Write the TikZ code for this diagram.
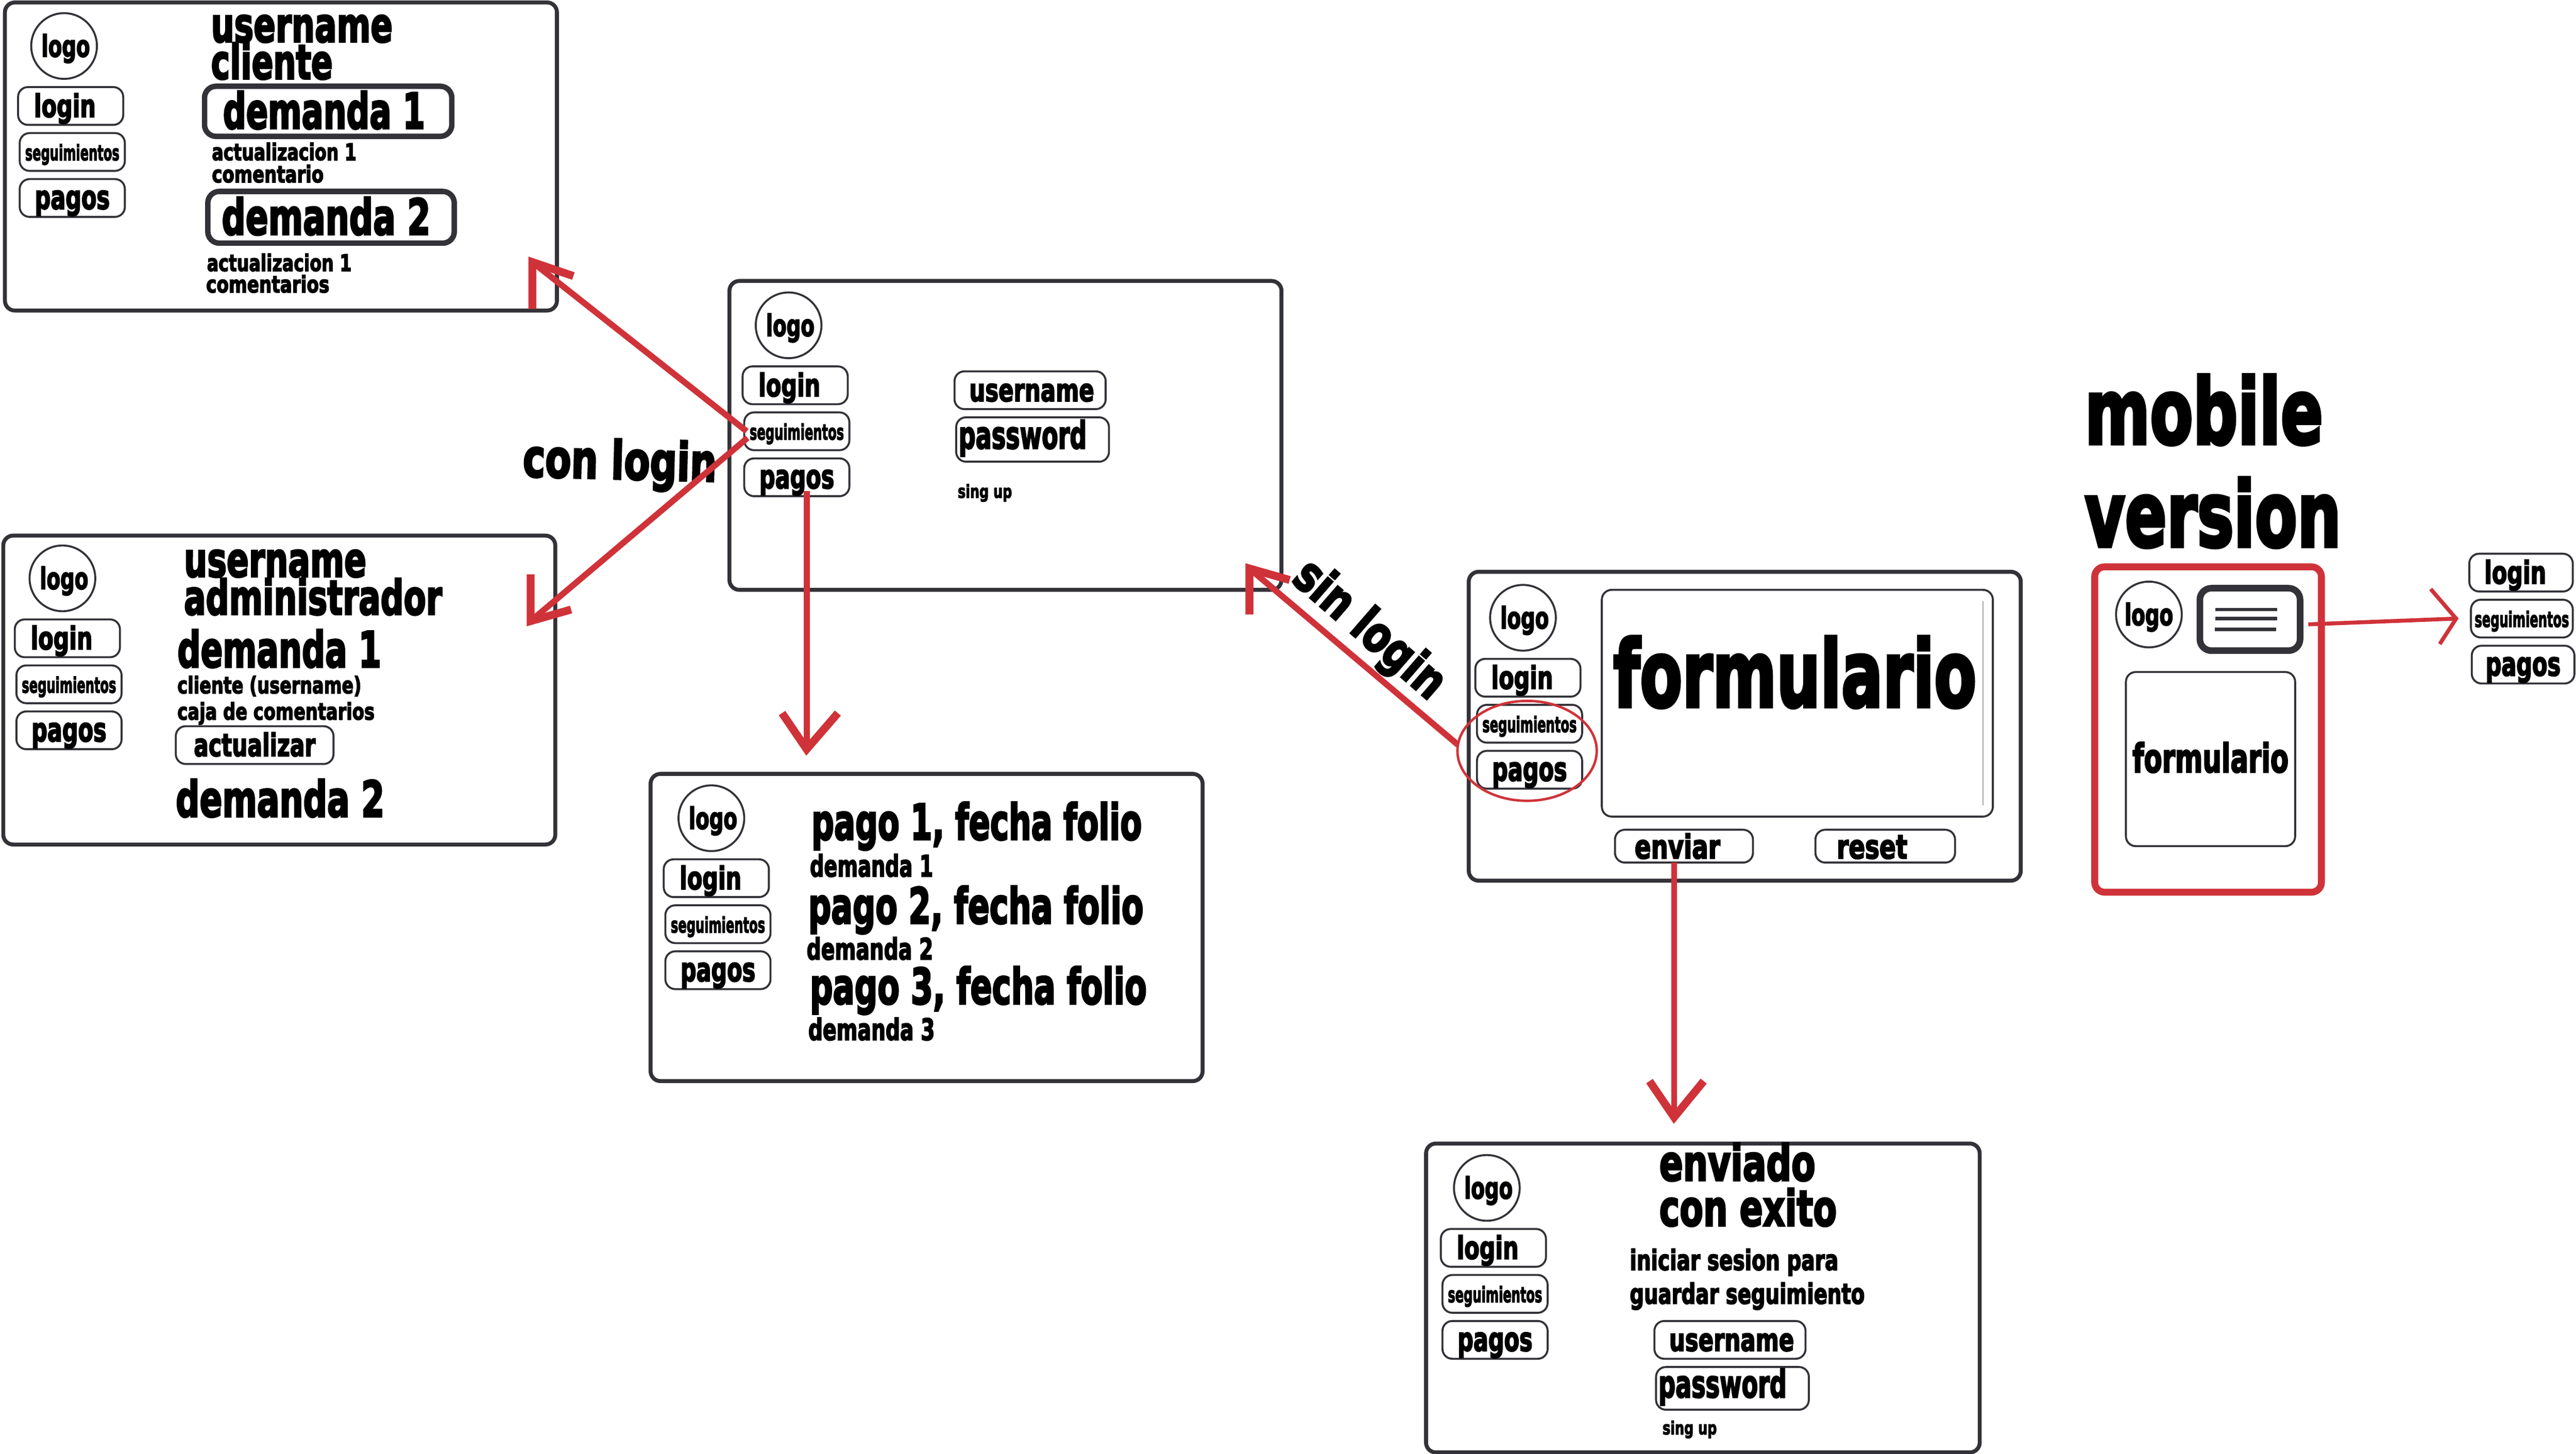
\documentclass[tikz,border=0pt]{standalone}
\usepackage{fontspec}
\usepackage{graphicx}
\usetikzlibrary{shapes.geometric}
\newfontfamily\imp[FakeBold=4,UprightFont=* Bold]{DejaVu Sans}
\newlength\ux \setlength\ux{3.7775pt}
\definecolor{ink}{HTML}{333238}
\definecolor{redc}{HTML}{CF3339}
\newcommand\tx[3]{{\imp\fontsize{#1\ux}{#1\ux}\selectfont\resizebox{#2\ux}{\height}{#3}}}
% name, x, baseline y, size, width, text
\newcommand\lbl[6]{\node[anchor=base west,inner sep=0pt,outer sep=0pt] (#1) at (#2,#3) {\tx{#4}{#5}{#6}};}
% name, style, x1,y1,x2,y2, content
\newcommand\bx[7]{%
  \pgfmathsetlengthmacro\bw{((#5)-(#3))*\ux}%
  \pgfmathsetlengthmacro\bh{((#6)-(#4))*\ux}%
  \node[#2,minimum width=\bw,minimum height=\bh] (#1) at ({((#3)+(#5))/2},{((#4)+(#6))/2}) {#7};}
% prefix, logo x, logo y, button x, button y
\newcommand\screen[5]{%
  \node[logoc] (#1logo) at (#2,#3) {\hspace*{2\ux}\tx{18}{29.5}{logo}};
  \bx{#1login}{btn,wordbtn}{#4}{#5}{#4+64}{#5+23}{\tx{19}{37.6}{login}\hspace*{7\ux}}
  \bx{#1seg}{btn,smallbtn}{#4+1}{#5+28}{#4+65}{#5+51}{\tx{13}{57.4}{seguimientos}}
  \bx{#1pagos}{btn,wordbtn}{#4+1}{#5+56}{#4+65}{#5+79}{\tx{20}{45.6}{pagos}}
}
\tikzset{
  panel/.style={draw=ink,fill=white,line width=2.4\ux,rounded corners=6\ux,inner sep=0pt,outer sep=0pt},
  btn/.style={draw=ink,fill=white,line width=1.2\ux,rounded corners=6\ux,inner sep=0pt,outer sep=0pt},
  wordbtn/.style={text height=15\ux,text depth=1.6\ux},
  smallbtn/.style={text height=11.5\ux,text depth=1.3\ux},
  passbtn/.style={text height=16\ux,text depth=5\ux},
  heavybtn/.style={draw=ink,fill=white,line width=3.3\ux,rounded corners=7\ux,inner sep=0pt,outer sep=0pt},
  headbtn/.style={text height=23\ux,text depth=2\ux},
  logoc/.style={draw=ink,fill=white,line width=1.2\ux,circle,minimum size=40\ux,inner sep=0pt,outer sep=0pt,text height=14\ux,text depth=1\ux},
  redline/.style={draw=redc,line width=3.7\ux},
  redhead/.style={draw=redc,line width=4.8\ux,line join=miter,miter limit=20},
  thinred/.style={draw=redc,line width=2.4\ux,line join=miter,miter limit=20},
}
\begin{document}
\begin{tikzpicture}[x=3.7775pt,y=-3.7775pt]
\useasboundingbox (0,0) rectangle (1567.97,884.71);
% panel A
\bx{pa}{panel}{3}{1.5}{339}{189}{}
\screen{a-}{39}{28}{11}{53}
\lbl{a1}{128.5}{25.5}{29}{110.5}{username}
\lbl{a2}{128.5}{48}{29}{74}{cliente}
\bx{a3}{heavybtn,headbtn}{124.5}{52.5}{275}{83}{\tx{30}{123}{demanda 1}\hspace*{5\ux}}
\lbl{a4}{129}{97.5}{14}{88}{actualizacion 1}
\lbl{a5}{129}{111}{14}{68}{comentario}
\bx{a6}{heavybtn,headbtn}{126.5}{116.5}{276.5}{148}{\tx{30}{127}{demanda 2}\hspace*{6\ux}}
\lbl{a7}{126}{165}{14}{88}{actualizacion 1}
\lbl{a8}{125.5}{178}{14}{75}{comentarios}
% panel B
\bx{pb}{panel}{444}{171}{780}{359}{}
\screen{b-}{480}{198}{452}{223}
\bx{b1}{btn,wordbtn}{581}{226}{673}{249}{\hspace*{2\ux}\tx{19}{76}{username}}
\bx{b2}{btn,passbtn}{582}{254}{675}{281}{\tx{23}{78}{password}\hspace*{12\ux}}
\lbl{b3}{583}{303}{11}{33}{sing up}
% panel C
\bx{pc}{panel}{2}{326}{338}{514}{}
\screen{c-}{38}{352}{9}{377}
\lbl{c1}{112}{351}{29}{111}{username}
\lbl{c2}{112}{374}{29}{157}{administrador}
\lbl{c3}{108}{406}{30}{124}{demanda 1}
\lbl{c4}{108}{422}{14}{112}{cliente (username)}
\lbl{c5}{108}{438}{14}{120}{caja de comentarios}
\bx{c6}{btn,wordbtn}{107}{442}{203}{465}{\tx{19}{74}{actualizar}}
\lbl{c7}{107}{497}{30}{127}{demanda 2}
% panel D
\bx{pd}{panel}{396}{471}{732}{658}{}
\screen{d-}{433}{498}{404}{523}
\lbl{d1}{494}{511}{30}{201}{pago 1, fecha folio}
\lbl{d2}{493}{533.5}{18}{75}{demanda 1}
\lbl{d3}{492}{562}{30}{204}{pago 2, fecha folio}
\lbl{d4}{491}{584}{18}{77}{demanda 2}
\lbl{d5}{493}{611}{30}{205}{pago 3, fecha folio}
\lbl{d6}{492}{633}{18}{77}{demanda 3}
% panel E
\bx{pe}{panel}{894}{348}{1230}{536}{}
\screen{e-}{927}{376}{898}{401}
\bx{e1}{btn}{975}{359}{1213}{497}{}
\draw[draw=gray!70,line width=.4\ux] (1207,366) -- (1207,490);
\lbl{e2}{982}{430}{56}{221}{formulario}
\bx{e3}{btn,text height=15\ux,text depth=0\ux}{983}{505}{1067}{525}{\tx{20}{52}{enviar}\hspace*{8\ux}}
\bx{e4}{btn,text height=15\ux,text depth=0\ux}{1105}{505}{1190}{525}{\tx{20}{43}{reset}\hspace*{16\ux}}
% panel F
\bx{pf}{panel}{868}{696}{1205}{884}{}
\screen{f-}{905}{723}{877}{748}
\lbl{f1}{1010}{718.5}{30}{95}{enviado}
\lbl{f2}{1010}{746}{30}{108}{con exito}
\lbl{f3}{992}{773}{17}{127}{iniciar sesion para}
\lbl{f4}{992}{793.5}{17}{143}{guardar seguimiento}
\bx{f5}{btn,wordbtn}{1007}{804}{1099}{827}{\hspace*{2\ux}\tx{19}{76}{username}}
\bx{f6}{btn,passbtn}{1008}{832}{1101}{858}{\tx{23}{78}{password}\hspace*{12\ux}}
\lbl{f7}{1012}{873}{11}{33}{sing up}
% mobile
\lbl{m1}{1269}{270}{55}{145}{mobile}
\lbl{m2}{1269}{332.5}{55}{156}{version}
\bx{mo}{panel,draw=redc,line width=4.2\ux}{1275}{345}{1413}{543}{}
\node[logoc] (mlogo) at (1308,374) {\tx{18}{29.5}{logo}};
\bx{ham}{heavybtn,line width=4\ux}{1339}{358}{1400}{396}{}
\draw[ink,line width=2\ux] (1348.5,371) -- (1386,371);
\draw[ink,line width=2\ux] (1348.5,376.5) -- (1386,376.5);
\draw[ink,line width=2\ux] (1348,383) -- (1385.5,383);
\bx{mf}{btn,text height=18\ux,text depth=2\ux}{1294}{409}{1397}{515}{\tx{24}{95}{formulario}}
\bx{s1}{btn,wordbtn}{1503}{337}{1566}{360}{\tx{19}{37.6}{login}\hspace*{7\ux}}
\bx{s2}{btn,smallbtn}{1504}{365}{1566}{388}{\tx{13}{57.4}{seguimientos}}
\bx{s3}{btn,wordbtn}{1504.5}{393}{1567}{416}{\tx{20}{45.6}{pagos}}
% labels on arrows
\node[anchor=base west,inner sep=0pt,rotate=-1.5] (l1) at (318,290) {\tx{32}{118}{con login}};
\node[rotate=-41,inner sep=0pt] (l2) at (833,384) {\tx{30}{112}{sin login}};
% circle on the panel E buttons
\node[draw=redc,line width=1.5\ux,ellipse,minimum width=84.8\ux,minimum height=60.8\ux,inner sep=0pt,outer sep=0pt] (circ) at (929.5,457) {};
% arrows
\coordinate (t1) at (324,159.5);
\coordinate (t1a) at (324,188);
\coordinate (t1b) at (349,168);
\draw[redline] ([xshift=1.5\ux]b-seg.west) -- (t1);
\draw[redhead] (t1a) -- (t1) -- (t1b);
\coordinate (t2) at (323,378);
\coordinate (t2a) at (323,349.5);
\coordinate (t2b) at (347.6,371);
\draw[redline] ([xshift=2\ux,yshift=-4\ux]b-seg.west) -- (t2);
\draw[redhead] (t2a) -- (t2) -- (t2b);
\coordinate (t3) at (491,456);
\coordinate (t3a) at (476,434);
\coordinate (t3b) at (510,434);
\draw[redline] ([xshift=6\ux,yshift=3\ux]b-pagos.south) -- (t3);
\draw[redhead] (t3a) -- (t3) -- (t3b);
\coordinate (t4) at (760.5,346);
\coordinate (t4a) at (760.5,374);
\coordinate (t4b) at (785,353);
\draw[redline] (circ.175) -- (t4);
\draw[redhead] (t4a) -- (t4) -- (t4b);
\coordinate (t5) at (1019,680);
\coordinate (t5a) at (1004,658);
\coordinate (t5b) at (1037,658);
\draw[redline] ([xshift=-6\ux]e3.south) -- (t5);
\draw[redhead] (t5a) -- (t5) -- (t5b);
\coordinate (t6) at (1495,376.5);
\coordinate (t6a) at (1479.5,358.5);
\coordinate (t6b) at (1485,392);
\draw[thinred] ([shift={(5,3)}]ham.east) -- (t6);
\draw[thinred] (t6a) -- (t6) -- (t6b);
\end{tikzpicture}
\end{document}
